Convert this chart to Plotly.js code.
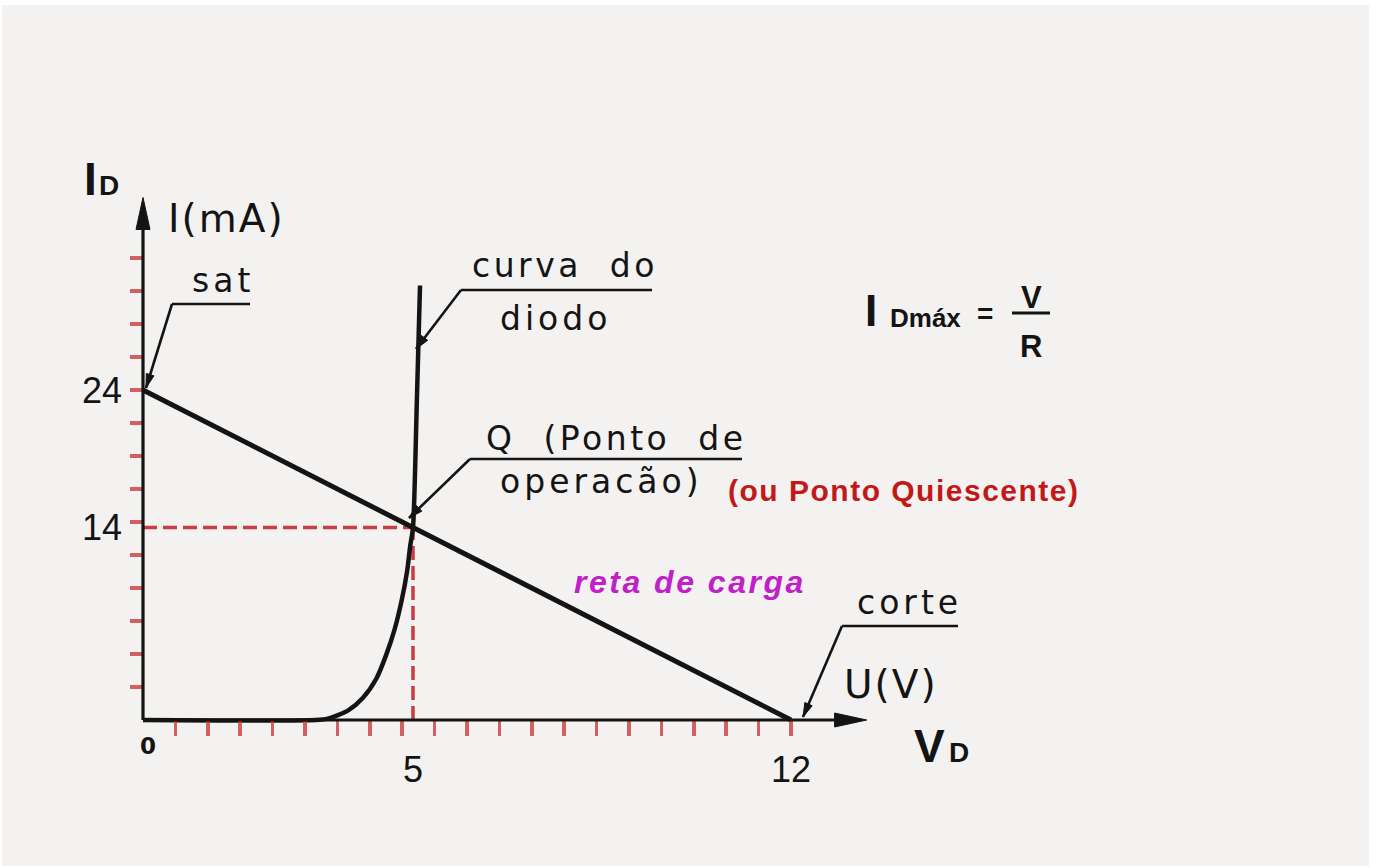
<!DOCTYPE html>
<html><head><meta charset="utf-8">
<script src="https://cdn.plot.ly/plotly-3.0.1.min.js"></script>
<style>html,body{margin:0;padding:0;background:#fff;} #chart{width:1381px;height:868px;}</style>
</head><body><div id="chart"></div>
<script>
// ---------------- data ----------------
const loadLineV = [0, 12];
const loadLineI = [24, 0];
const diodeV = [0, 3.2, 3.42, 3.8, 4.07, 4.32, 4.5, 4.66, 4.79, 4.89, 4.95, 5.0, 5.07, 5.13];
const diodeI = [0, 0, 0.1, 0.7, 1.6, 3.0, 4.7, 6.6, 8.7, 10.8, 12.7, 14.0, 23, 31.6];
const qPointV = 5;
const qPointI = 14;
const xTickVals = [0.6, 1.2, 1.8, 2.4, 3.0, 3.6, 4.2, 4.8, 5.4, 6.0, 6.6, 7.2, 7.8, 8.4, 9.0, 9.6, 10.2, 10.8, 11.4, 12.0];
const yTickVals = [2.4, 4.8, 7.2, 9.6, 12.0, 14.4, 16.8, 19.2, 21.6, 24.0, 26.4, 28.8, 31.2, 33.6];
const xLabelVals = [5, 12];
const xLabelText = ['5', '12'];
const yLabelVals = [24, 14];
const yLabelText = ['24', '14'];
const xAxisEnd = 13.4;
const yAxisEnd = 38.0;

// ---------------- layout helpers ----------------
const PLOT = {l: 2, r: 1369, t: 5, b: 866};
const X0PX = 143, XPU = 54, Y0PX = 720, YPU = 13.75;
const px2x = p => (p - X0PX) / XPU;
const px2y = p => (Y0PX - p) / YPU;
const x2px = v => X0PX + v * XPU;
const y2px = v => Y0PX - v * YPU;

const CAD = "'DejaVu Sans', sans-serif";
const ARIAL = "'Liberation Sans', Arial, sans-serif";
const INK = '#141414';

const annotations = [];
function txt(text, cx, cy, size, family, color, extra) {
  annotations.push(Object.assign({
    text: text, x: px2x(cx), y: px2y(cy), xref: 'x', yref: 'y',
    xanchor: 'center', yanchor: 'middle', showarrow: false,
    font: {family: family, size: size, color: color || INK}
  }, extra || {}));
}
function sp(t, s) { return '<span style="letter-spacing:' + s + 'px">' + t + '</span>'; }

const shapes = [];
function lineShape(x0, y0, x1, y1, w, color, dash) {
  shapes.push({type: 'line', xref: 'x', yref: 'y', x0: px2x(x0), y0: px2y(y0), x1: px2x(x1), y1: px2y(y1),
    line: {color: color || INK, width: w, dash: dash || 'solid'}});
}
function arrowHead(tipX, tipY, fromX, fromY, len, halfW) {
  const dx = tipX - fromX, dy = tipY - fromY, d = Math.hypot(dx, dy);
  const ux = dx / d, uy = dy / d;
  const bx = tipX - ux * len, by = tipY - uy * len;
  const p1x = bx - uy * halfW, p1y = by + ux * halfW;
  const p2x = bx + uy * halfW, p2y = by - ux * halfW;
  shapes.push({type: 'path', xref: 'x', yref: 'y',
    path: 'M' + px2x(tipX) + ',' + px2y(tipY) + ' L' + px2x(p1x) + ',' + px2y(p1y) + ' L' + px2x(p2x) + ',' + px2y(p2y) + ' Z',
    fillcolor: INK, line: {color: INK, width: 1}});
}
function leader(ux0, ux1, uy, tipX, tipY) {
  lineShape(ux0, uy, ux1, uy, 2.6);
  lineShape(ux0, uy, tipX, tipY, 2.6);
  arrowHead(tipX, tipY, ux0, uy, 14, 4);
}

// axes lines with arrows (from axis end values)
const ox = x2px(0), oy = y2px(0);
lineShape(ox, oy, x2px(xAxisEnd) - 20, oy, 3.2);
lineShape(ox, oy, ox, y2px(yAxisEnd) + 20, 3.2);
arrowHead(x2px(xAxisEnd), oy, ox, oy, 32, 7);
arrowHead(ox, y2px(yAxisEnd), ox, oy, 32, 7);

// leaders
leader(172, 250, 304, 146, 388);   // sat
leader(461, 652, 290, 416, 349);   // curva do diodo
leader(470, 742, 459, 409, 518);   // Q
leader(842, 958, 626, 803, 717);   // corte

// formula fraction bar
lineShape(1012, 313, 1050, 313, 3.2);

// axis numbers
xLabelVals.forEach((v, i) => txt(xLabelText[i], x2px(v), 769, 36, ARIAL));
yLabelVals.forEach((v, i) => {
  annotations.push({text: yLabelText[i], x: px2x(124), y: v, xref: 'x', yref: 'y', xanchor: 'right', yanchor: 'middle',
    showarrow: false, font: {family: ARIAL, size: 36, color: INK}});
});
txt('<b>0</b>', 148, 746, 23, CAD);

// axis names
txt('<b>I</b>', 90, 179, 46, ARIAL);
txt('<b>D</b>', 109, 185, 28, ARIAL);
txt('<b>V</b>', 929, 746, 46, ARIAL);
txt('<b>D</b>', 959, 752, 28, ARIAL);
txt(sp('I(mA)', 2), 226, 218, 39, CAD);
txt(sp('U(V)', 2), 891, 684, 39, CAD);

// CAD labels
txt(sp('sat', 4), 223, 280, 33, CAD);
txt(sp('curva\u00A0\u00A0do', 3.5), 565, 265, 33, CAD);
txt(sp('diodo', 4), 555, 318, 33, CAD);
txt(sp('Q\u00A0\u00A0(Ponto\u00A0\u00A0de', 3.5), 616, 438, 33, CAD);
txt(sp('operacão)', 4), 601, 481, 33, CAD);
txt(sp('corte', 4), 909, 602, 33, CAD);

// coloured notes
txt('<b>' + sp('(ou Ponto Quiescente)', 1.5) + '</b>', 904, 490, 30, ARIAL, '#c21818');
txt('<b><i>' + sp('reta de carga', 2.5) + '</i></b>', 690, 582, 32, ARIAL, '#c020c8');

// formula
txt('<b>I</b>', 871, 310, 44, ARIAL);
txt('<b>Dmáx</b>', 925, 318, 26, ARIAL);
txt('<b>=</b>', 985, 313, 28, ARIAL);
txt('<b>V</b>', 1031, 297, 31, ARIAL);
txt('<b>R</b>', 1031, 346, 31, ARIAL);

// ---------------- traces ----------------
const RED = 'rgba(196,40,45,0.9)';
const traces = [
  {x: [0, qPointV], y: [qPointI, qPointI], mode: 'lines', line: {color: RED, width: 3.5, dash: '14px,6px'}, hoverinfo: 'skip'},
  {x: [qPointV, qPointV], y: [0, qPointI], mode: 'lines', line: {color: RED, width: 3.5, dash: '14px,6px'}, hoverinfo: 'skip'},
  {x: diodeV, y: diodeI, mode: 'lines', line: {color: INK, width: 4.5, shape: 'spline', smoothing: 0.7}, hoverinfo: 'skip'},
  {x: loadLineV, y: loadLineI, mode: 'lines', line: {color: INK, width: 5}, hoverinfo: 'skip'}
];

const TICKRED = 'rgba(205,70,70,0.85)';
const layout = {
  width: 1381, height: 868,
  margin: {l: PLOT.l, r: 1381 - PLOT.r, t: PLOT.t, b: 868 - PLOT.b, pad: 0},
  paper_bgcolor: '#ffffff', plot_bgcolor: '#f3f2f0',
  showlegend: false,
  xaxis: {range: [px2x(PLOT.l), px2x(PLOT.r)], showgrid: false, zeroline: false, showline: false,
    showticklabels: false, ticks: 'outside', tickvals: xTickVals, ticklen: 15, tickwidth: 3.5, tickcolor: TICKRED,
    anchor: 'free', position: (PLOT.b - Y0PX) / (PLOT.b - PLOT.t), fixedrange: true},
  yaxis: {range: [px2y(PLOT.b), px2y(PLOT.t)], showgrid: false, zeroline: false, showline: false,
    showticklabels: false, ticks: 'outside', tickvals: yTickVals, ticklen: 13, tickwidth: 3.5, tickcolor: TICKRED,
    anchor: 'free', position: (X0PX - PLOT.l) / (PLOT.r - PLOT.l), fixedrange: true},
  shapes: shapes,
  annotations: annotations
};
Plotly.newPlot('chart', traces, layout, {displayModeBar: false, staticPlot: true});
</script>
</body></html>
